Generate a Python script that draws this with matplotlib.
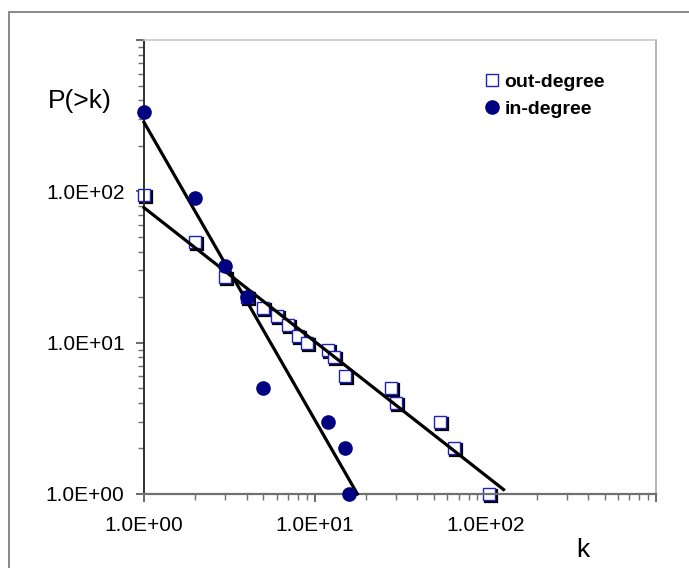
import matplotlib
matplotlib.use("Agg")
import matplotlib.pyplot as plt
import matplotlib.transforms as mtransforms
from matplotlib.patches import Rectangle
from matplotlib.ticker import FixedLocator, FuncFormatter, LogLocator, NullFormatter

plt.rcParams['font.family'] = ['Liberation Sans', 'DejaVu Sans']

# out-degree cumulative distribution (open squares)
out_k = [1, 2, 3, 4, 5, 6, 7, 8, 9, 12, 13, 15, 28, 30, 54, 66, 105]
out_p = [95, 46, 27, 20, 17, 15, 13, 11, 10, 9, 8, 6, 5, 4, 3, 2, 1]

# in-degree cumulative distribution (filled circles)
in_k = [1, 2, 3, 4, 5, 12, 15, 16]
in_p = [335, 90, 32, 20, 5, 3, 2, 1]

# fitted power-law lines, given by their end points
out_fit_k = [1, 128]
out_fit_p = [78, 1.07]
in_fit_k = [1, 17.8]
in_fit_p = [286, 1]

major_ticks = [1, 10, 100, 1000]
labelled = [1, 10, 100]

navy = '#000080'
square_blue = '#2020c0'

fig = plt.figure(figsize=(6.89, 5.68), dpi=100)
ax = fig.add_axes([0.209, 0.1303, 0.743, 0.7993])

# outer chart-area frame, cut off on the right and bottom
fig.patches.append(Rectangle((9 / 689, -0.1), 1.2, 1.1 - 12 / 568,
                             transform=fig.transFigure, fill=False,
                             edgecolor='#808080', linewidth=1.3, clip_on=False))

ax.set_xscale('log')
ax.set_yscale('log')
ax.set_xlim(1, 1000)
ax.set_ylim(1, 1000)

ax.plot(out_fit_k, out_fit_p, color='black', linewidth=2.3, zorder=3, clip_on=False)
ax.plot(in_fit_k, in_fit_p, color='black', linewidth=2.3, zorder=3, clip_on=False)

# squares with a small black drop shadow
shadow = mtransforms.offset_copy(ax.transData, fig=fig, x=2, y=-2, units='dots')
ax.plot(out_k, out_p, linestyle='none', marker='s', markersize=8.6,
        markerfacecolor='none', markeredgecolor='black', markeredgewidth=1.6,
        transform=shadow, zorder=2, clip_on=False)
sq, = ax.plot(out_k, out_p, linestyle='none', marker='s', markersize=8.6,
              markerfacecolor='white', markeredgecolor=square_blue,
              markeredgewidth=1.0, zorder=2, clip_on=False, label='out-degree')
ci, = ax.plot(in_k, in_p, linestyle='none', marker='o', markersize=9.5,
              color=navy, zorder=4, clip_on=False, label='in-degree')

fmt = FuncFormatter(lambda v, pos: f"{v:.1E}" if v in labelled else '')
for axis in (ax.xaxis, ax.yaxis):
    axis.set_major_locator(FixedLocator(major_ticks))
    axis.set_major_formatter(fmt)
    axis.set_minor_locator(LogLocator(base=10, subs=range(2, 10)))
    axis.set_minor_formatter(NullFormatter())

ax.tick_params(which='major', length=6, width=1.2, color='#505050', labelsize=15)
ax.tick_params(which='minor', length=4, width=1.0, color='#707070')
ax.tick_params(axis='x', pad=10)
ax.tick_params(axis='y', pad=8)

ax.spines['left'].set_color('#303030')
ax.spines['left'].set_linewidth(1.4)
ax.spines['bottom'].set_color('#707070')
ax.spines['bottom'].set_linewidth(1.6)
ax.spines['top'].set_color('#c8c8c8')
ax.spines['right'].set_color('#a8a8a8')
ax.spines['top'].set_linewidth(1.2)
ax.spines['right'].set_linewidth(1.2)

fig.text(80 / 689, 1 - 101 / 568, 'P(>k)', fontsize=19, ha='center', va='center')
fig.text(583 / 689, 1 - 550 / 568, 'k', fontsize=19, ha='center', va='center')

ax.legend(handles=[sq, ci], loc='upper left', bbox_to_anchor=(0.638, 0.956),
          frameon=False, prop={'weight': 'bold', 'size': 14},
          handlelength=0.8, handletextpad=0.25, labelspacing=0.45,
          borderpad=0.2)

fig.savefig('out.png', dpi=100)
